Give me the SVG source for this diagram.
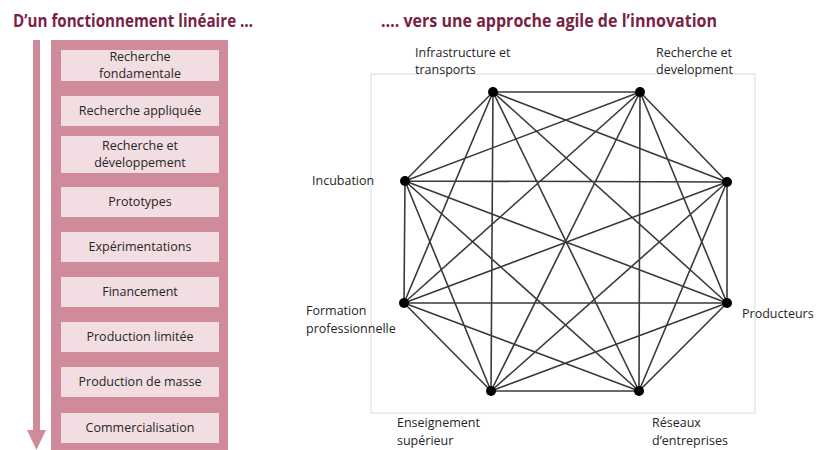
<svg xmlns="http://www.w3.org/2000/svg" width="816" height="450" viewBox="0 0 816 450">
<style>
.title{font-family:"Open Sans","Liberation Sans",sans-serif;font-weight:bold;font-size:17.5px;fill:#7a1f47}
.box{fill:#f2dde2}
.bt{font-family:"Open Sans","Liberation Sans",sans-serif;font-size:12.5px;fill:#262626;text-anchor:middle}
.lbl{font-family:"Open Sans","Liberation Sans",sans-serif;font-size:12.5px;fill:#262626}
.edge{stroke:#3a3a3a;stroke-width:1.6;fill:none}
.dot{fill:#000}
</style>
<rect width="816" height="450" fill="#fff"/>
<text class="title" x="13" y="27" textLength="240" lengthAdjust="spacingAndGlyphs">D’un fonctionnement linéaire …</text>
<text class="title" x="381" y="27" textLength="336" lengthAdjust="spacingAndGlyphs">…. vers une approche agile de l’innovation</text>
<g id="arrow">
<rect x="33" y="40" width="7" height="392" fill="#cf8b99"/>
<polygon points="27,430 46,430 36.5,450" fill="#cf8b99"/>
</g>
<rect id="panel" x="51" y="40" width="177" height="410" fill="#cf8b99"/>
<g id="b1"><rect class="box" x="61" y="50" width="158" height="31"/><text class="bt" x="140" y="61">Recherche</text><text class="bt" x="140" y="78">fondamentale</text></g>
<g id="b2"><rect class="box" x="61" y="96" width="158" height="30"/><text class="bt" x="140" y="115">Recherche appliquée</text></g>
<g id="b3"><rect class="box" x="61" y="136" width="158" height="37"/><text class="bt" x="140" y="150">Recherche et</text><text class="bt" x="140" y="167">développement</text></g>
<g id="b4"><rect class="box" x="61" y="187" width="158" height="30"/><text class="bt" x="140" y="206">Prototypes</text></g>
<g id="b5"><rect class="box" x="61" y="232" width="158" height="30"/><text class="bt" x="140" y="251">Expérimentations</text></g>
<g id="b6"><rect class="box" x="61" y="277" width="158" height="30"/><text class="bt" x="140" y="296">Financement</text></g>
<g id="b7"><rect class="box" x="61" y="322" width="158" height="30"/><text class="bt" x="140" y="341">Production limitée</text></g>
<g id="b8"><rect class="box" x="61" y="367" width="158" height="30"/><text class="bt" x="140" y="386">Production de masse</text></g>
<g id="b9"><rect class="box" x="61" y="413" width="158" height="30"/><text class="bt" x="140" y="432">Commercialisation</text></g>
<rect id="frame" x="371" y="74" width="384" height="339" fill="none" stroke="#dcdcdc" stroke-width="1"/>
<g id="connectors">
<path class="edge" d="M493,92L640,92M493,92L405,181M493,92L727,182M493,92L404,303M493,92L727,303M493,92L491,391M493,92L639,391
M640,92L405,181M640,92L727,182M640,92L404,303M640,92L727,303M640,92L491,391M640,92L639,391
M405,181L727,182M405,181L404,303M405,181L727,303M405,181L491,391M405,181L639,391
M727,182L404,303M727,182L727,303M727,182L491,391M727,182L639,391
M404,303L727,303M404,303L491,391M404,303L639,391
M727,303L491,391M727,303L639,391
M491,391L639,391"/>
</g>
<g id="n-infra"><circle class="dot" cx="493" cy="92" r="5"/><text class="lbl" x="415" y="57">Infrastructure et</text><text class="lbl" x="415" y="74">transports</text></g>
<g id="n-rd"><circle class="dot" cx="640" cy="92" r="5"/><text class="lbl" x="656" y="57">Recherche et</text><text class="lbl" x="656" y="74">development</text></g>
<g id="n-incub"><circle class="dot" cx="405" cy="181" r="5"/><text class="lbl" x="312" y="185">Incubation</text></g>
<g id="n-right1"><circle class="dot" cx="727" cy="182" r="5"/></g>
<g id="n-form"><circle class="dot" cx="404" cy="303" r="5"/><text class="lbl" x="306" y="315">Formation</text><text class="lbl" x="306" y="333">professionnelle</text></g>
<g id="n-prod"><circle class="dot" cx="727" cy="303" r="5"/><text class="lbl" x="742" y="318">Producteurs</text></g>
<g id="n-ens"><circle class="dot" cx="491" cy="391" r="5"/><text class="lbl" x="397" y="427">Enseignement</text><text class="lbl" x="397" y="445">supérieur</text></g>
<g id="n-res"><circle class="dot" cx="639" cy="391" r="5"/><text class="lbl" x="652" y="427">Réseaux</text><text class="lbl" x="652" y="445">d’entreprises</text></g>
</svg>
